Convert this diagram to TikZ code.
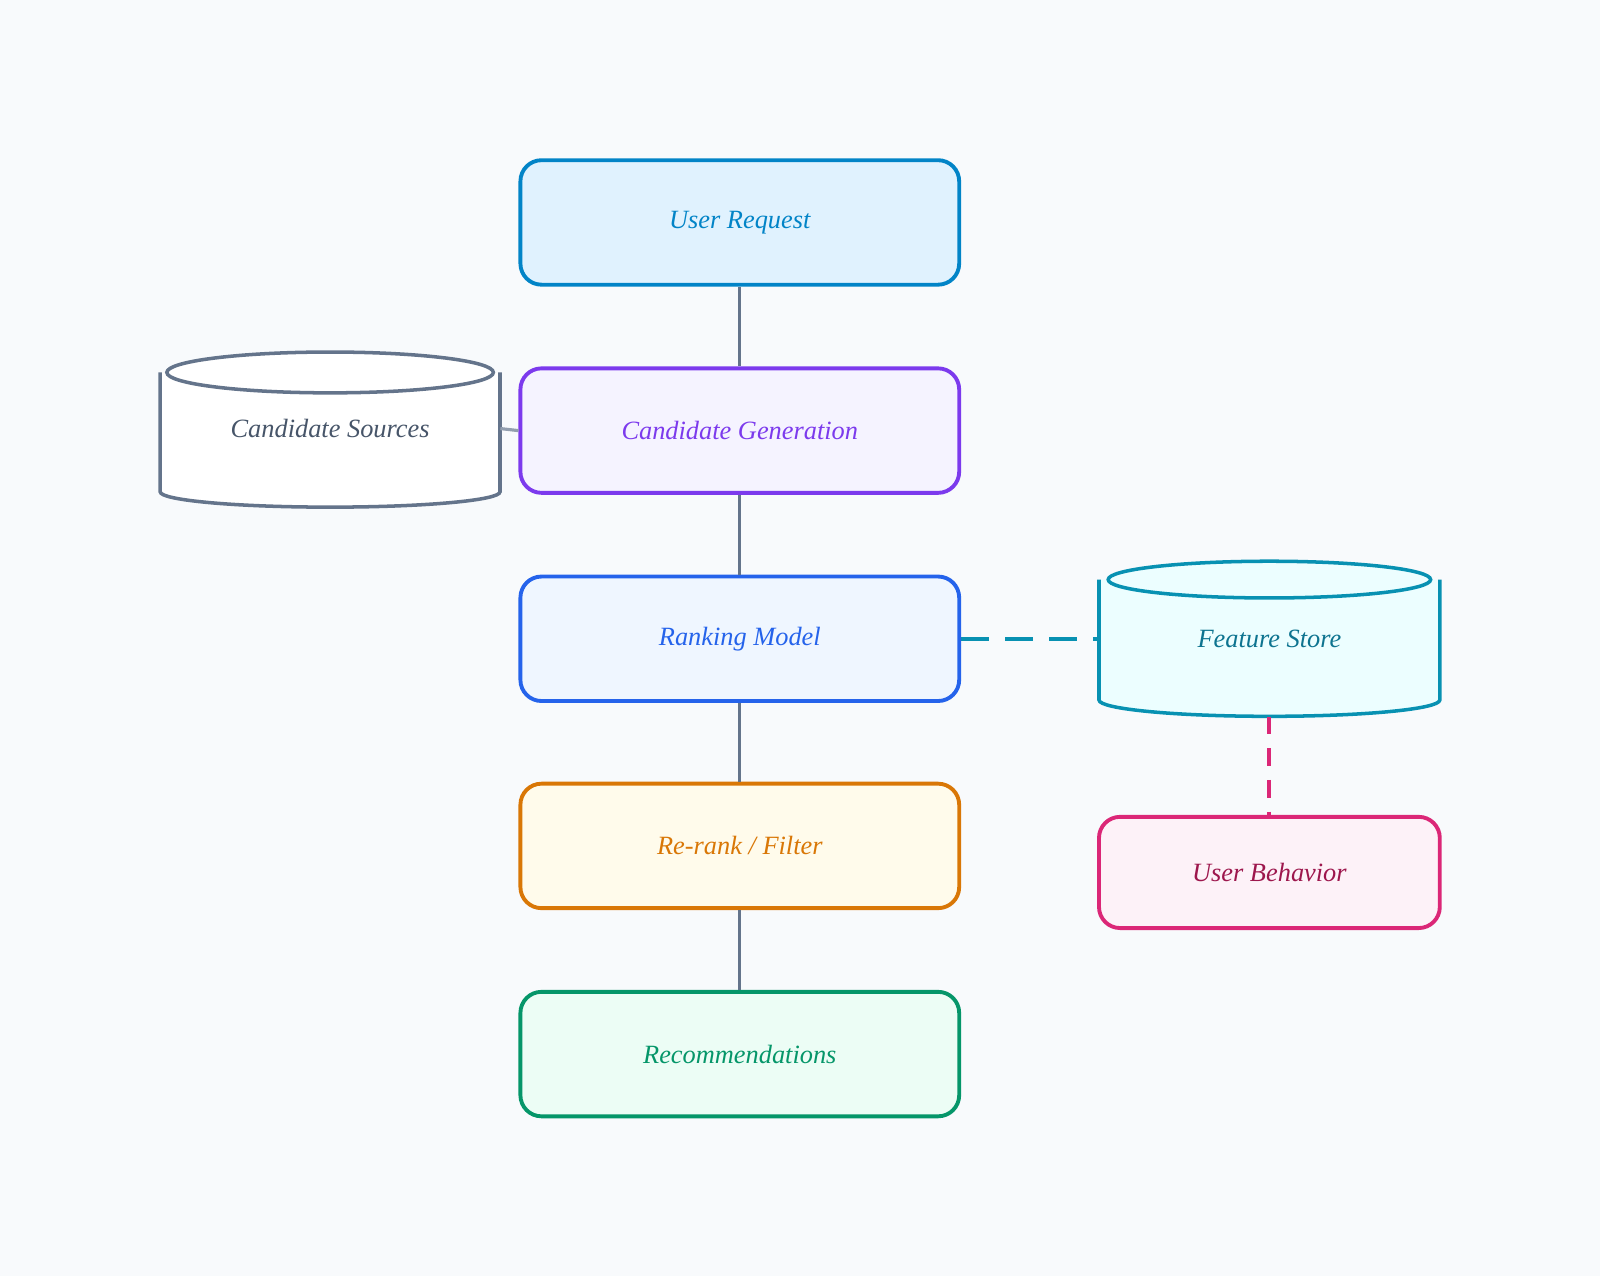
\documentclass[tikz,border=0pt]{standalone}
\usepackage{fontspec}
\setmainfont{Liberation Serif}
\begin{document}
\begin{tikzpicture}[x=0.0204cm,y=-0.0204cm,
  box/.style={draw,line width=2.2pt,rounded corners=12pt,minimum width=430*0.0204cm,minimum height=122*0.0204cm,font=\fontsize{15}{17}\selectfont\itshape},
  conn/.style={draw=cS,line width=1.8pt}]
\definecolor{bg}{HTML}{F8FAFC}
\definecolor{cS}{HTML}{64748B}
\definecolor{cUR}{HTML}{0284C7}\definecolor{fUR}{HTML}{E0F2FE}
\definecolor{cCG}{HTML}{7C3AED}\definecolor{fCG}{HTML}{F5F3FF}
\definecolor{cRM}{HTML}{2563EB}\definecolor{fRM}{HTML}{EFF6FF}
\definecolor{cRR}{HTML}{D97706}\definecolor{fRR}{HTML}{FFFBEB}
\definecolor{cRC}{HTML}{059669}\definecolor{fRC}{HTML}{ECFDF5}
\definecolor{cFS}{HTML}{0891B2}\definecolor{fFS}{HTML}{ECFEFF}\definecolor{tFS}{HTML}{0E7490}
\definecolor{cUB}{HTML}{DB2777}\definecolor{fUB}{HTML}{FDF2F8}\definecolor{tUB}{HTML}{9D174D}
\definecolor{tCS}{HTML}{475569}
\fill[bg] (0,0) rectangle (1568,1250);
\useasboundingbox (0,0) rectangle (1568,1250);
% cylinders
\begin{scope}[draw=cS,line width=2pt]
\draw[fill=white] (157,365) -- (157,482) arc[start angle=180,end angle=0,x radius=166.5,y radius=15] -- (490,365);
\draw[fill=white] (323.5,365) ellipse[x radius=160,y radius=20];
\end{scope}
\node[minimum width=333*0.0204cm,minimum height=140*0.0204cm,font=\fontsize{15}{17}\selectfont\itshape,text=tCS] (cs) at (323.5,420) {Candidate Sources};
\begin{scope}[draw=cFS,line width=2pt]
\draw[fill=fFS] (1077,568) -- (1077,686) arc[start angle=180,end angle=0,x radius=167,y radius=16] -- (1411,568);
\draw[fill=fFS] (1244,568) ellipse[x radius=158,y radius=18];
\end{scope}
\node[minimum width=334*0.0204cm,minimum height=152*0.0204cm,font=\fontsize{15}{17}\selectfont\itshape,text=tFS] (fs) at (1244,626) {Feature Store};
% boxes
\node[box,draw=cUR,fill=fUR,text=cUR] (ur) at (725,218) {User Request};
\node[box,draw=cCG,fill=fCG,text=cCG] (cg) at (725,422) {Candidate Generation};
\node[box,draw=cRM,fill=fRM,text=cRM] (rm) at (725,626) {Ranking Model};
\node[box,draw=cRR,fill=fRR,text=cRR] (rr) at (725,829) {Re-rank / Filter};
\node[box,draw=cRC,fill=fRC,text=cRC] (rc) at (725,1033) {Recommendations};
\node[box,draw=cUB,fill=fUB,text=tUB,minimum width=334*0.0204cm,minimum height=109*0.0204cm] (ub) at (1244,855) {User Behavior};
% connectors
\draw[conn] (ur) -- (cg);
\draw[conn] (cg) -- (rm);
\draw[conn] (rm) -- (rr);
\draw[conn] (rr) -- (rc);
\draw[draw=cS!70,line width=1.8pt] (cs.east) -- (cg.west);
\draw[draw=cFS,line width=2.2pt,dash pattern=on 16pt off 9pt] (rm.east) -- (fs.west);
\draw[draw=cUB,line width=2.2pt,dash pattern=on 10pt off 8pt] (fs.south) -- (ub.north);
\end{tikzpicture}
\end{document}
